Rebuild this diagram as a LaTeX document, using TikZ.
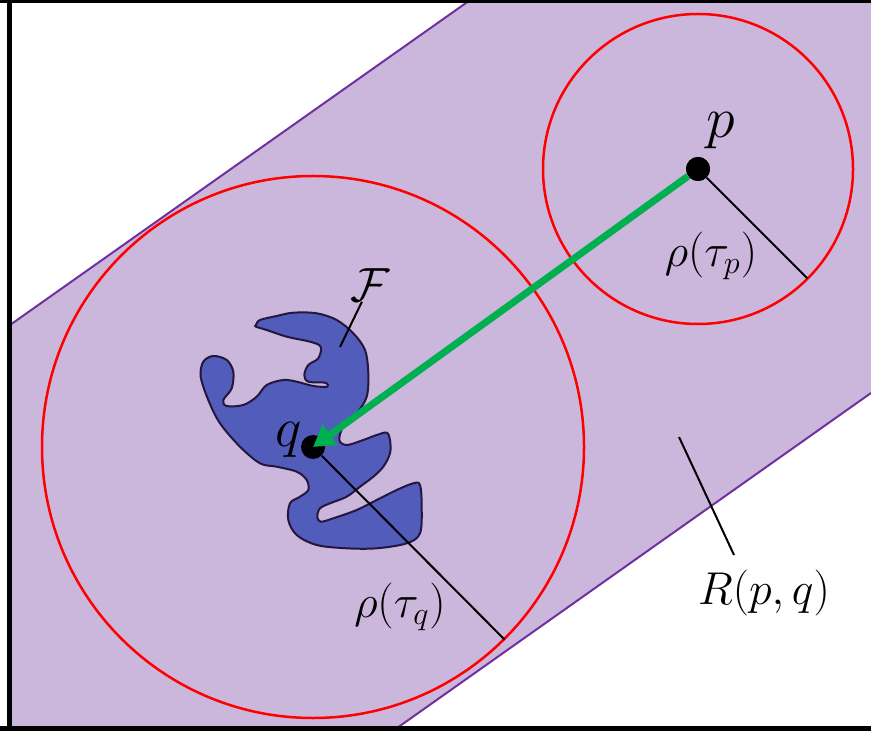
\documentclass[tikz,border=0pt]{standalone}
\usepackage{fix-cm}
\usetikzlibrary{arrows.meta}
\begin{document}
\begin{tikzpicture}[x=0.5pt,y=-0.5pt,
  ring/.style={draw=ringred,line width=1.25pt},
  bandedge/.style={draw=bandpurple,line width=1pt},
  dot/.style={circle,fill=black,inner sep=0pt,minimum size=12pt},
  tick/.style={draw=black,line width=1pt},
  flow/.style={draw=flowgreen,line width=3.5pt,-{Triangle[length=10.5pt,width=12pt]}},
  lbl/.style={inner sep=0pt}]
\definecolor{bandfill}{HTML}{CBB6DC}
\definecolor{bandpurple}{HTML}{7030A0}
\definecolor{ringred}{HTML}{FF0000}
\definecolor{flowgreen}{HTML}{00B050}
\definecolor{blobfill}{HTML}{525CBA}
\definecolor{blobedge}{HTML}{24163F}
\useasboundingbox (0,0) rectangle (871,731);
% strip R(p,q)
\fill[bandfill] (9,325.7) -- (470.2,0) -- (871,0) -- (871,393) -- (392.8,731) -- (9,731) -- cycle;
\draw[bandedge] (9,325.7) -- (470.2,0);
\draw[bandedge] (392.8,731) -- (871,393);
% balls
\node[dot] (p) at (698,169) {};
\node[dot] (q) at (313,447) {};
\draw[ring] (p) circle[radius=155];
\draw[ring] (q) circle[radius=271];
% feature F
\draw[fill=blobfill,draw=blobedge,line width=1pt] plot[smooth cycle,tension=0.55] coordinates {
  (256.0,325.0) (260.0,320.0) (276.7,316.0) (293.3,312.7) (316.7,313.3) (336.7,320.0)
  (353.3,333.3) (365.0,350.0) (368.3,373.3) (366.7,396.7) (356.7,413.3) (343.3,426.7)
  (339.3,440.0) (346.7,445.0) (363.3,440.0) (376.7,435.0) (386.7,432.7) (390.0,440.0)
  (390.0,453.3) (383.3,466.7) (373.3,476.7) (360.0,486.7) (346.7,496.7) (330.0,503.3)
  (320.0,508.3) (317.3,516.7) (320.7,521.7) (333.3,518.3) (356.7,510.0) (376.7,500.0)
  (396.7,490.0) (413.3,483.3) (420.0,485.0) (421.7,506.7) (420.0,533.3) (406.7,543.3)
  (376.7,548.3) (346.7,548.3) (316.7,545.0) (296.7,535.0) (288.3,520.0) (290.0,503.3)
  (300.0,496.7) (308.3,490.0) (306.7,480.0) (296.7,471.7) (276.7,466.7) (260.0,463.3)
  (240.0,446.7) (220.0,423.3) (208.3,400.0) (200.7,376.7) (203.3,361.7) (213.3,356.0)
  (226.7,360.0) (233.3,371.7) (231.7,388.3) (223.3,400.0) (226.7,406.0) (243.3,405.0)
  (256.7,396.7) (266.7,385.0) (283.3,380.0) (296.7,381.7) (313.3,386.0) (327.3,386.7)
  (325.0,382.7) (308.3,381.7) (304.3,375.0) (308.3,365.0) (318.3,358.3) (320.7,346.7)
  (310.0,341.7) (286.7,336.7) (266.7,330.0) (256.0,326.7)};
% radii
\coordinate (pedge) at (807.6,278.6);
\coordinate (qedge) at (504.6,639.6);
\draw[tick] (p) -- (pedge);
\draw[tick] (q) -- (qedge);
\node[dot] at (p) {};
\node[dot] at (q) {};
\draw[flow] (p) -- (q.center);
% labels
\node[lbl,font=\fontsize{29pt}{32pt}\selectfont] (plabel) at (721,131) {$p$};
\node[lbl,font=\fontsize{28pt}{31pt}\selectfont] (qlabel) at (289,440) {$q$};
\node[lbl,font=\fontsize{23pt}{26pt}\selectfont] (rhop) at (711,256) {$\rho\Bigl(\tau_p\Bigr)$};
\node[lbl,font=\fontsize{23pt}{26pt}\selectfont] (rhoq) at (400,607) {$\rho\Bigl(\tau_q\Bigr)$};
\node[lbl,font=\fontsize{24pt}{27pt}\selectfont] (flabel) at (370,285) {$\mathcal{F}$};
\node[lbl,font=\fontsize{23pt}{26pt}\selectfont] (rlabel) at (764,593) {$R(p,q)$};
\coordinate (ftip) at (340,347);
\coordinate (rfoot) at (734,555);
\coordinate (rhead) at (679,437);
\draw[tick] (flabel) -- (ftip);
\draw[tick] (rfoot) -- (rhead);
% frame
\draw[line width=1.5pt] (0,1.5) -- (871,1.5);
\draw[line width=2.5pt] (9.5,0) -- (9.5,731);
\draw[line width=2.5pt] (0,728.5) -- (871,728.5);
\end{tikzpicture}
\end{document}
